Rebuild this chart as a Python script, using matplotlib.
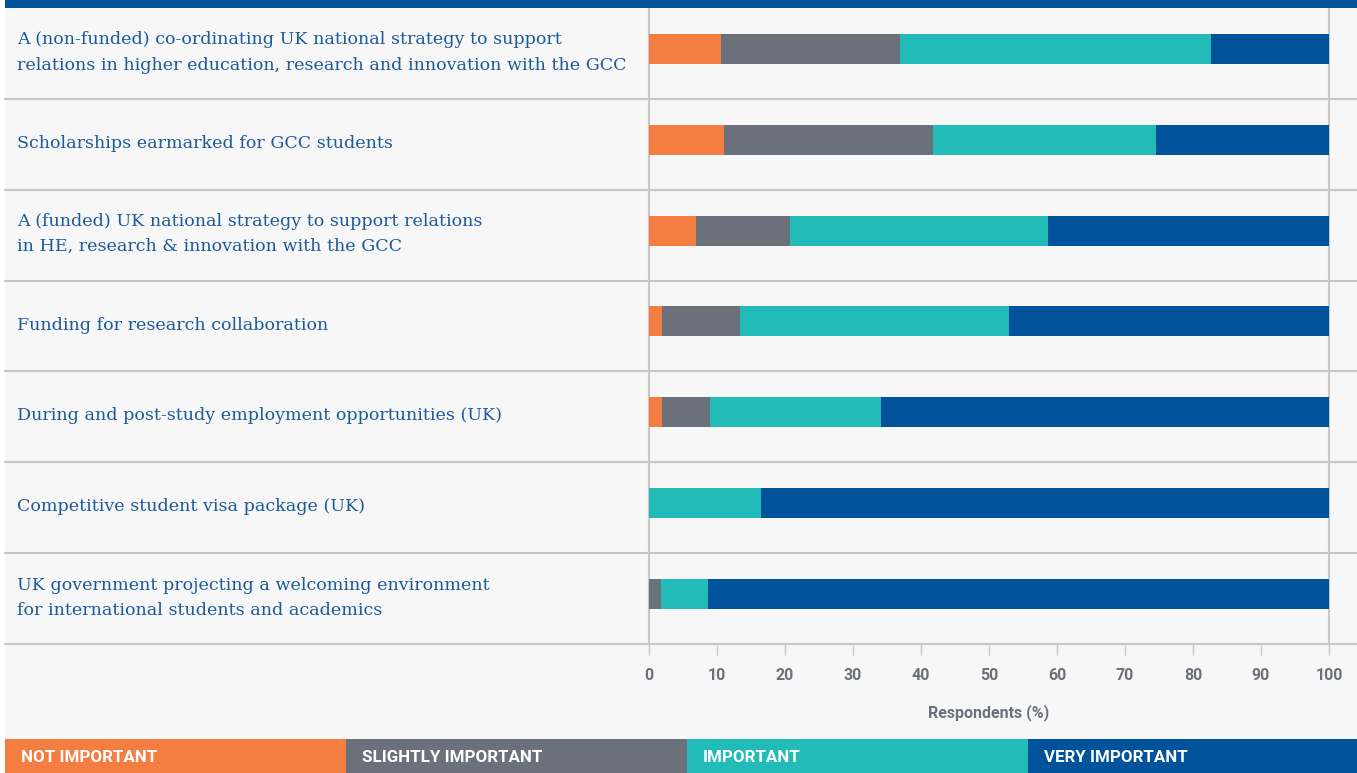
import matplotlib
matplotlib.use("Agg")
import matplotlib.pyplot as plt
import numpy as np

labels = [
    "A (non-funded) co-ordinating UK national strategy to support\nrelations in higher education, research and innovation with the GCC",
    "Scholarships earmarked for GCC students",
    "A (funded) UK national strategy to support relations\nin HE, research & innovation with the GCC",
    "Funding for research collaboration",
    "During and post-study employment opportunities (UK)",
    "Competitive student visa package (UK)",
    "UK government projecting a welcoming environment\nfor international students and academics",
]
categories = ["NOT IMPORTANT", "SLIGHTLY IMPORTANT", "IMPORTANT", "VERY IMPORTANT"]
not_important = [10.6, 11.0, 6.9, 1.9, 1.9, 0.0, 0.0]
slightly_important = [26.3, 30.8, 13.8, 11.5, 7.0, 0.0, 1.7]
important = [45.7, 32.8, 38.0, 39.5, 25.2, 16.4, 7.0]
very_important = [17.4, 25.4, 41.3, 47.1, 65.9, 83.6, 91.3]
colors = ["#f47e42", "#6b717a", "#22bbb8", "#00529b"]

W, H = 1357, 773
bg = "#f7f7f7"
label_col = "#1c5a9c"
tick_col = "#6b717a"
cond = ["Liberation Sans Narrow", "Roboto", "DejaVu Sans"]

fig = plt.figure(figsize=(W / 100, H / 100), dpi=100)
fig.patch.set_facecolor("white")

# background panel and top band
bgax = fig.add_axes([5 / W, 0, 1 - 5 / W, 1])
bgax.set_facecolor(bg)
bgax.set_xticks([])
bgax.set_yticks([])
for s in bgax.spines.values():
    s.set_visible(False)
top = fig.add_axes([5 / W, 1 - 8 / H, 1 - 5 / W, 8 / H])
top.set_facecolor("#00529b")
top.set_xticks([])
top.set_yticks([])
for s in top.spines.values():
    s.set_visible(False)

# main chart axes, x scale: 0 -> px 649, 100 -> px 1329
px = 6.8
x_left = (5 - 649) / px
x_right = (1357 - 649) / px
ax = fig.add_axes([5 / W, (H - 644) / H, 1 - 5 / W, 636 / H])
ax.set_facecolor("none")
ax.set_xlim(x_left, x_right)
ax.set_ylim(len(labels), 0)

y = np.arange(len(labels)) + 0.45
left = np.zeros(len(labels))
for vals, c in zip([not_important, slightly_important, important, very_important], colors):
    ax.barh(y, vals, left=left, height=0.33, color=c, zorder=3)
    left += np.array(vals)

for i in range(1, len(labels) + 1):
    ax.axhline(i, color="#c4c7cb", lw=1.5, zorder=2, clip_on=False)
for xv in (0, 100):
    ax.axvline(xv, color="#c8c8c8", lw=1.5, zorder=2)

for i, lab in enumerate(labels):
    ax.text((17 - 649) / px, i + 0.49, lab, ha="left", va="center",
            fontsize=12.6, family="DejaVu Serif", color=label_col, linespacing=1.62)

for s in ax.spines.values():
    s.set_visible(False)
ax.set_yticks([])
ax.set_xticks(np.arange(0, 101, 10))
ax.tick_params(axis="x", length=8, width=1, color="#c8c8c8", pad=9,
               labelsize=11.5, labelcolor=tick_col)
for t in ax.get_xticklabels():
    t.set_fontweight("bold")
    t.set_family(cond)
fig.text((649 + 1329) / 2 / W, 1 - 713 / H, "Respondents (%)", ha="center", va="center",
         fontsize=11.5, fontweight="bold", color=tick_col, family=cond)

# legend strip (cells 341 px wide, last one cut by the figure edge)
lg = fig.add_axes([5 / W, 0, 1 - 5 / W, 34 / H])
lg.set_xlim(0, (W - 5) / 341)
lg.set_ylim(0, 1)
lg.bar(np.arange(len(categories)), 1, width=1, align="edge", color=colors)
for i, cat in enumerate(categories):
    lg.text(i + 0.047, 0.45, cat, ha="left", va="center", color="white",
            fontsize=12.2, fontweight="bold", family=cond)
lg.axis("off")

fig.savefig("out.png", dpi=100, facecolor=fig.get_facecolor())
